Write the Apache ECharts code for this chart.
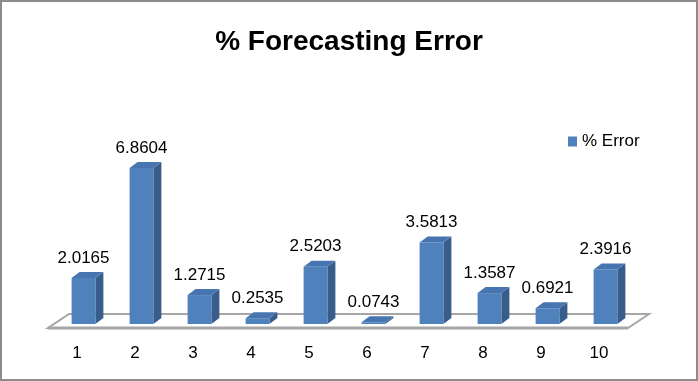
<!DOCTYPE html>
<html>
<head>
<meta charset="utf-8">
<script src="https://cdn.jsdelivr.net/npm/echarts@6/dist/echarts.min.js"></script>
<style>
  html, body { margin: 0; padding: 0; background: #fff; }
  #chart { width: 698px; height: 381px; }
</style>
</head>
<body>
<div id="chart"></div>
<script>
// data
const categories = ['1', '2', '3', '4', '5', '6', '7', '8', '9', '10'];
const errorValues = [2.0165, 6.8604, 1.2715, 0.2535, 2.5203, 0.0743, 3.5813, 1.3587, 0.6921, 2.3916];

const FONT = '"Liberation Sans", Arial, sans-serif';
const COLORS = {
  front: '#4F81BD',
  side: '#385D8A',
  top: '#4675B0',
  floor: '#A6A6A6'
};

// 3d look: offsets for the bar depth and the floor depth
const BAR_DX = 8, BAR_DY = -6;
const FLOOR_DX = 21;

const chart = echarts.init(document.getElementById('chart'));

const renderFloor = (params, api) => {
  const origin = api.coord([0, 0]);
  const band = api.size([1, 0])[0];
  const left = origin[0] - band / 2;
  const right = left + band * categories.length;
  const frontY = origin[1] + 4;
  const backY = origin[1] - 10;
  return {
    type: 'group',
    children: [
      {
        type: 'polygon',
        shape: { points: [[left, frontY], [right, frontY], [right + FLOOR_DX, backY], [left + FLOOR_DX, backY]] },
        style: { fill: '#fff', stroke: COLORS.floor, lineWidth: 2 }
      },
      {
        type: 'line',
        shape: { x1: left, y1: frontY, x2: right, y2: frontY },
        style: { stroke: COLORS.floor, lineWidth: 3 }
      }
    ]
  };
};

const renderBar = (params, api) => {
  const base = api.coord([api.value(0), 0]);
  const topPt = api.coord([api.value(0), api.value(1)]);
  const band = api.size([1, 0])[0];
  const w = band * 0.41;
  const cx = base[0] + band * 0.112;
  const x0 = cx - w / 2, x1 = cx + w / 2;
  const yTop = topPt[1], yBase = base[1];
  return {
    type: 'group',
    children: [
      {
        type: 'polygon',
        shape: { points: [[x1, yTop], [x1 + BAR_DX, yTop + BAR_DY], [x1 + BAR_DX, yBase + BAR_DY], [x1, yBase]] },
        style: { fill: COLORS.side }
      },
      {
        type: 'rect',
        shape: { x: x0, y: yTop, width: w, height: yBase - yTop },
        style: { fill: COLORS.front }
      },
      {
        type: 'polygon',
        shape: { points: [[x0, yTop], [x0 + BAR_DX, yTop + BAR_DY], [x1 + BAR_DX, yTop + BAR_DY], [x1, yTop]] },
        style: { fill: COLORS.top }
      },
      {
        type: 'text',
        x: cx,
        y: yTop - 20,
        style: {
          text: api.value(1).toFixed(4),
          fill: '#000',
          font: '17px ' + FONT,
          align: 'center',
          verticalAlign: 'middle'
        }
      }
    ]
  };
};

const option = {
  animation: false,
  title: {
    text: '% Forecasting Error',
    left: 'center',
    top: 23,
    textStyle: { fontSize: 28, fontWeight: 'bold', color: '#000', fontFamily: FONT }
  },
  legend: {
    data: ['% Error'],
    left: 568,
    top: 133,
    padding: 0,
    icon: 'rect',
    itemWidth: 9,
    itemHeight: 10,
    textStyle: { fontSize: 17, color: '#000', fontFamily: FONT }
  },
  graphic: [
    {
      type: 'rect',
      shape: { x: 1, y: 1, width: 696, height: 379 },
      style: { fill: 'none', stroke: '#8C8C8C', lineWidth: 2 },
      silent: true
    }
  ],
  grid: { left: 48, right: 70, top: 142, bottom: 57 },
  xAxis: {
    type: 'category',
    data: categories,
    axisLine: { show: false },
    axisTick: { show: false },
    axisLabel: { margin: 21, fontSize: 17, color: '#000', fontFamily: FONT }
  },
  yAxis: {
    type: 'value',
    min: 0,
    max: 8,
    show: false
  },
  series: [
    {
      type: 'custom',
      name: 'floor',
      silent: true,
      z: 1,
      data: [[0, 0]],
      renderItem: renderFloor
    },
    {
      type: 'custom',
      name: '% Error',
      z: 2,
      itemStyle: { color: COLORS.front },
      encode: { x: 0, y: 1 },
      data: errorValues.map((v, i) => [i, v]),
      renderItem: renderBar
    }
  ]
};

chart.setOption(option);
</script>
</body>
</html>
